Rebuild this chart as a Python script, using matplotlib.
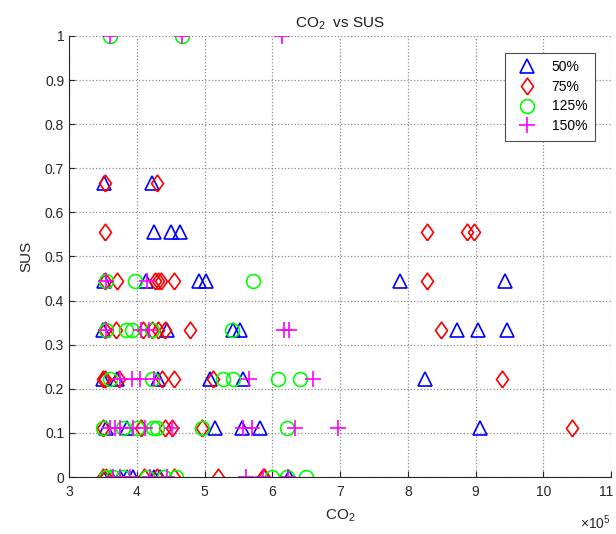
import numpy as np
import matplotlib
matplotlib.use('Agg')
import matplotlib.pyplot as plt
import matplotlib.transforms as mtransforms
from matplotlib.ticker import FuncFormatter, FormatStrFormatter

plt.rcParams['font.family'] = ['Liberation Sans', 'DejaVu Sans']
plt.rcParams['mathtext.fontset'] = 'custom'
plt.rcParams['mathtext.rm'] = 'Liberation Sans'
plt.rcParams['mathtext.it'] = 'Liberation Sans:italic'

# CO2 values in units of 1e5, SUS values (multiples of 1/9)
co2_50 = [3.52, 4.23,
          4.25, 4.51, 4.64,
          3.52, 4.14, 4.92, 5.02, 7.88, 9.43,
          3.50, 4.44, 5.42, 5.52, 8.72, 9.03, 9.47,
          3.50, 3.71, 4.31, 5.08, 5.57, 8.25,
          3.55, 3.85, 5.15, 5.55, 5.82, 9.06,
          3.50, 3.62, 3.75, 3.85, 3.95, 4.25, 4.35, 6.24]
sus_50 = [0.667, 0.667,
          0.556, 0.556, 0.556,
          0.444, 0.444, 0.444, 0.444, 0.444, 0.444,
          0.333, 0.333, 0.333, 0.333, 0.333, 0.333, 0.333,
          0.222, 0.222, 0.222, 0.222, 0.222, 0.222,
          0.111, 0.111, 0.111, 0.111, 0.111, 0.111,
          0, 0, 0, 0, 0, 0, 0, 0]

co2_75 = [3.53, 4.30,
          3.53, 8.29, 8.88, 8.98,
          3.53, 3.71, 4.27, 4.31, 4.36, 4.55, 8.29,
          3.53, 3.69, 4.09, 4.22, 4.31, 4.42, 4.78, 8.49,
          3.50, 3.53, 3.74, 4.37, 4.55, 5.12, 9.39,
          3.50, 4.07, 4.41, 4.52, 4.97, 10.42,
          3.50, 3.55, 4.10, 4.30, 4.55, 5.20, 5.86, 5.88]
sus_75 = [0.667, 0.667,
          0.556, 0.556, 0.556, 0.556,
          0.444, 0.444, 0.444, 0.444, 0.444, 0.444, 0.444,
          0.333, 0.333, 0.333, 0.333, 0.333, 0.333, 0.333, 0.333,
          0.222, 0.222, 0.222, 0.222, 0.222, 0.222, 0.222,
          0.111, 0.111, 0.111, 0.111, 0.111, 0.111,
          0, 0, 0, 0, 0, 0, 0, 0]

co2_125 = [3.60, 4.67,
           3.54, 3.97, 5.71,
           3.55, 3.84, 3.93, 4.22, 5.40,
           3.60, 4.22, 5.27, 5.42, 6.09, 6.41,
           3.50, 3.80, 4.00, 4.24, 4.30, 4.96, 6.22,
           3.55, 3.65, 3.80, 4.15, 4.40, 4.58, 6.00, 6.22, 6.50]
sus_125 = [1, 1,
           0.444, 0.444, 0.444,
           0.333, 0.333, 0.333, 0.333, 0.333,
           0.222, 0.222, 0.222, 0.222, 0.222, 0.222,
           0.111, 0.111, 0.111, 0.111, 0.111, 0.111, 0.111,
           0, 0, 0, 0, 0, 0, 0, 0, 0]

co2_150 = [3.60, 4.67, 6.14,
           3.54, 4.15,
           3.55, 4.07, 4.18, 6.17, 6.25,
           3.75, 3.93, 4.05, 4.25, 5.66, 6.60,
           3.60, 3.68, 3.75, 3.95, 4.12, 4.52, 5.57, 5.70, 6.33, 6.97,
           3.65, 3.75, 3.90, 4.20, 4.45, 5.61, 5.86, 6.23]
sus_150 = [1, 1, 1,
           0.444, 0.444,
           0.333, 0.333, 0.333, 0.333, 0.333,
           0.222, 0.222, 0.222, 0.222, 0.222, 0.222,
           0.111, 0.111, 0.111, 0.111, 0.111, 0.111, 0.111, 0.111, 0.111, 0.111,
           0, 0, 0, 0, 0, 0, 0, 0]

labels = ['50%', '75%', '125%', '150%']

diamond = [(0, -1), (0.72, 0), (0, 1), (-0.72, 0), (0, -1)]

fig = plt.figure(figsize=(6.16, 5.34), dpi=100)
ax = fig.add_axes([0.112, 0.1067, 0.880, 0.826])

series = [(co2_50, sus_50, '^', (0, 0, 1), 10),
          (co2_75, sus_75, diamond, (1, 0, 0), 12),
          (co2_125, sus_125, 'o', (0, 1, 0), 10),
          (co2_150, sus_150, '+', (1, 0, 1), 11)]
for (x, y, m, c, ms), lab in zip(series, labels):
    ax.plot(np.array(x) * 1e5, y, linestyle='none', marker=m, markersize=ms,
            markerfacecolor='none', markeredgecolor=c, markeredgewidth=1.2,
            label=lab)

ax.set_xlim(3e5, 11e5)
ax.set_ylim(0, 1)
ax.set_xticks(np.arange(3, 12) * 1e5)
ax.set_yticks(np.arange(0, 1.01, 0.1))
ax.xaxis.set_major_formatter(FuncFormatter(lambda v, p: '%g' % (v / 1e5)))
ax.yaxis.set_major_formatter(FormatStrFormatter('%g'))
ax.text(1.0, -0.104, r'$\times10^{5}$', transform=ax.transAxes,
        ha='right', va='center', fontsize=10, color='0.15')

ax.grid(True, linestyle=':', color='0.55', linewidth=0.9)
ax.set_axisbelow(True)
for s in ['top', 'right']:
    ax.spines[s].set_visible(False)
for s in ['left', 'bottom']:
    ax.spines[s].set_color('0.15')
    ax.spines[s].set_linewidth(0.8)
ax.tick_params(direction='in', length=4, labelsize=10, colors='0.15')
ax.tick_params(axis='x', pad=6)

# keep the last x tick label ("11") inside the figure
last = ax.get_xticklabels()[-1]
last.set_transform(last.get_transform() +
                   mtransforms.ScaledTranslation(-5 / 100, 0, fig.dpi_scale_trans))

ax.set_xlabel(r'$\mathrm{CO_2}$', fontsize=11, color='0.15', labelpad=6)
ax.set_ylabel('SUS', fontsize=11, color='0.15', labelpad=8)
ax.set_title(r'$\mathrm{CO_2}$  vs SUS', fontsize=11, color='0.1', pad=6)

leg = ax.legend(loc='upper right', bbox_to_anchor=(0.970, 0.962), fontsize=10,
                fancybox=False, framealpha=1, edgecolor='0.3', borderaxespad=0,
                borderpad=0.55, handletextpad=0.8, labelspacing=0.4)
leg.get_frame().set_linewidth(0.8)

fig.savefig('out.png', dpi=100)
